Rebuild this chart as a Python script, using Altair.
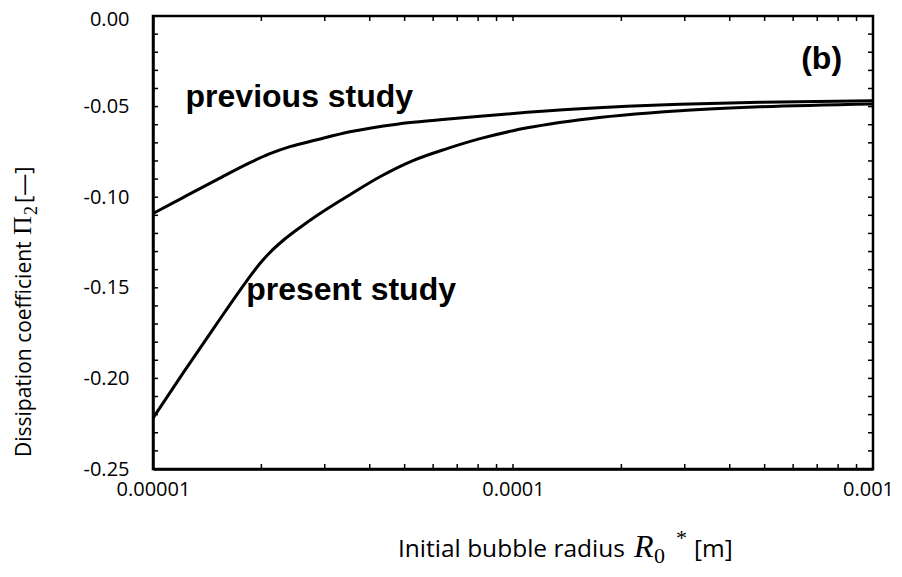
import altair as alt
import pandas as pd

# ---- data ----
prev_r0 = [1.0e-5, 1.2115e-5, 1.506e-5, 1.860e-5, 2.113e-5, 2.401e-5, 2.854e-5, 3.525e-5,
           4.763e-5, 6.267e-5, 8.10e-5, 1.535e-4, 2.910e-4, 4.854e-4, 1.0e-3]
prev_pi2 = [-0.1090, -0.1002, -0.0903, -0.0809, -0.0760, -0.0721, -0.0683, -0.0639,
            -0.0597, -0.0573, -0.0553, -0.0512, -0.0487, -0.0476, -0.0468]

pres_r0 = [1.0e-5, 1.2115e-5, 1.506e-5, 1.744e-5, 1.860e-5, 1.982e-5, 2.113e-5, 2.297e-5,
           2.561e-5, 2.854e-5, 3.525e-5, 4.271e-5, 5.275e-5, 6.558e-5, 8.10e-5, 1.0e-4,
           1.535e-4, 2.910e-4, 4.854e-4, 1.0e-3]
pres_pi2 = [-0.2219, -0.1971, -0.1696, -0.1514, -0.1437, -0.1366, -0.1305, -0.1239,
            -0.1167, -0.1101, -0.0986, -0.0887, -0.0798, -0.0732, -0.0677, -0.0633,
            -0.0573, -0.0523, -0.0501, -0.0485]

x_label_values = [1e-5, 1e-4, 1e-3]
y_label_values = [0.0, -0.05, -0.10, -0.15, -0.20, -0.25]
x_tick_values = [k * 10.0 ** e for e in (-5, -4) for k in range(1, 10)] + [1e-3]
y_tick_values = [-i / 100 for i in range(0, 26)]

annot_text = ["previous study", "present study", "(b)"]
annot_x = [2.55e-5, 3.55e-5, 7.2e-4]
annot_y = [-0.0446, -0.1514, -0.0237]

W, H = 720, 453

lines_df = pd.DataFrame({
    "r0": prev_r0 + pres_r0,
    "pi2": prev_pi2 + pres_pi2,
    "series": ["previous"] * len(prev_r0) + ["present"] * len(pres_r0),
})

xscale = alt.Scale(type="log", domain=[1e-5, 1e-3], nice=False)
yscale = alt.Scale(domain=[-0.25, 0.0], nice=False, zero=False)

lines = alt.Chart(lines_df).mark_line(color="black", strokeWidth=3, interpolate="monotone").encode(
    x=alt.X("r0:Q", scale=xscale, title=None,
            axis=alt.Axis(values=x_label_values, format="~f", ticks=False, grid=False,
                          domainColor="black", domainWidth=2.5, labelFlush=False,
                          labelOverlap=False, labelFont="Open Sans", labelFontSize=20,
                          labelColor="black", labelPadding=10,
                          labelOffset=alt.condition("datum.value > 0.0005", alt.value(-5), alt.value(0)))),
    y=alt.Y("pi2:Q", scale=yscale, title=None,
            axis=alt.Axis(values=y_label_values, ticks=False, grid=False,
                          labelExpr="datum.value < 0 ? '-' + format(-datum.value, '.2f') : format(datum.value, '.2f')",
                          domainColor="black", domainWidth=2.5, labelFont="Open Sans",
                          labelFontSize=20, labelColor="black", labelPadding=24,
                          labelOffset=alt.condition("datum.value == 0", alt.value(3), alt.value(0)))),
    detail="series:N",
)

xt = pd.DataFrame({"v": x_tick_values})
yt = pd.DataFrame({"v": y_tick_values})
tick_style = dict(color="black", strokeWidth=1.5)
bottom_ticks = alt.Chart(xt).mark_rule(**tick_style).encode(
    x=alt.X("v:Q", scale=xscale, axis=None), y=alt.value(H), y2=alt.value(H - 5))
top_ticks = alt.Chart(xt).mark_rule(**tick_style).encode(
    x=alt.X("v:Q", scale=xscale, axis=None), y=alt.value(0), y2=alt.value(5))
left_ticks = alt.Chart(yt).mark_rule(**tick_style).encode(
    y=alt.Y("v:Q", scale=yscale, axis=None), x=alt.value(0), x2=alt.value(5))
right_ticks = alt.Chart(yt).mark_rule(**tick_style).encode(
    y=alt.Y("v:Q", scale=yscale, axis=None), x=alt.value(W), x2=alt.value(W - 5))

ann_df = pd.DataFrame({"t": annot_text, "x": annot_x, "y": annot_y})
annots = alt.Chart(ann_df).mark_text(font="Liberation Sans", fontWeight="bold", fontSize=32,
                                     color="black", align="center", baseline="middle").encode(
    x=alt.X("x:Q", scale=xscale, axis=None), y=alt.Y("y:Q", scale=yscale, axis=None), text="t:N")


def label(txt, px, py, font="Open Sans", size=24, angle=0, style="normal", baseline="alphabetic"):
    return alt.Chart(pd.DataFrame({"t": [txt]})).mark_text(
        font=font, fontSize=size, angle=angle, fontStyle=style, color="black",
        align="left", baseline=baseline).encode(
        text="t:N", x=alt.value(px), y=alt.value(py))


# x-axis title pieces
xt_parts = [
    label("Initial bubble radius", 245, 541, size=24.5),
    label("R", 481, 541, font="Liberation Serif", size=32, style="italic"),
    label("0", 501, 547, font="Liberation Serif", size=22),
    label("*", 523, 529, font="Liberation Serif", size=22),
    label("[m]", 541, 541, size=24.5),
]
# y-axis title pieces (rotated)
yt_parts = [
    label("Dissipation coefficient", -122, 441, size=21, angle=270),
    label("\u03a0", -122, 219, font="Liberation Serif", size=26, angle=270),
    label("2", -116, 199, font="Liberation Serif", size=18, angle=270),
    label("[\u2014]", -122, 187, size=22, angle=270),
]

chart = alt.layer(lines, bottom_ticks, top_ticks, left_ticks, right_ticks, annots,
                  *xt_parts, *yt_parts).resolve_axis(x="independent", y="independent").properties(
    width=W, height=H,
    autosize=alt.AutoSizeParams(type="none"),
    padding={"left": 145, "top": 8, "right": 21, "bottom": 100},
).configure_view(stroke="black", strokeWidth=2.5)

chart.save("out.html", embed_options={"renderer": "svg", "actions": False})
